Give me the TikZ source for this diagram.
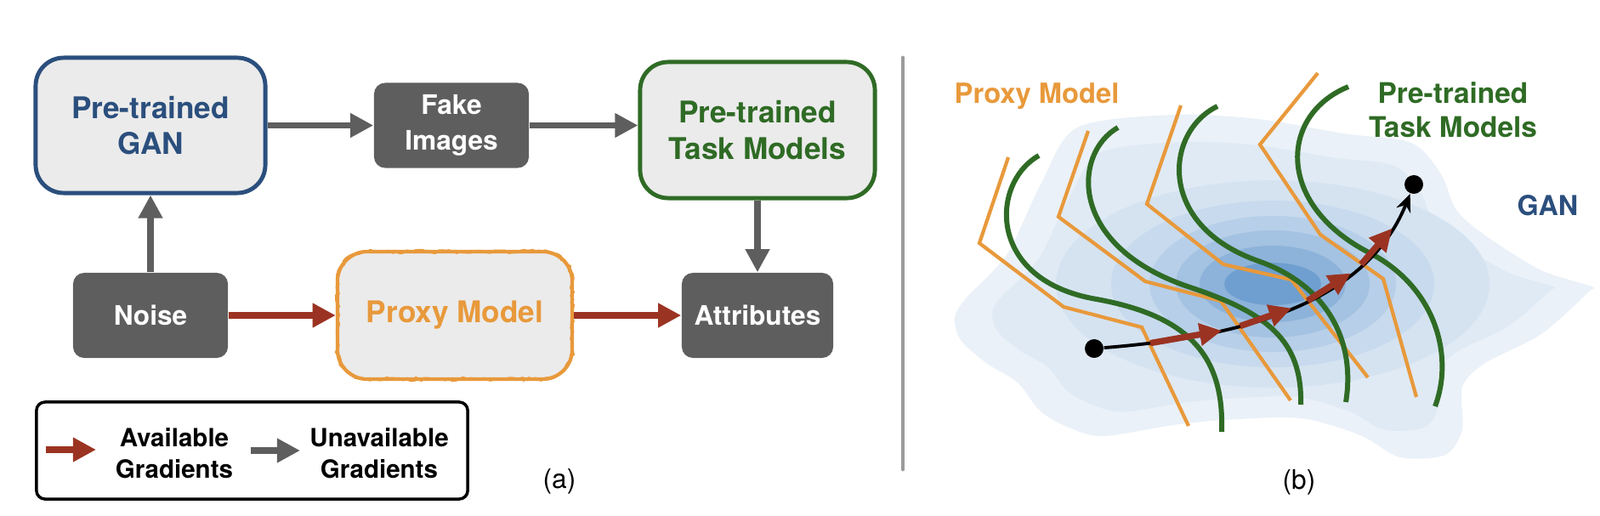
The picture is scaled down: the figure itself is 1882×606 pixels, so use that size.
\documentclass[tikz,border=0pt]{standalone}
\usepackage{fontspec}
\setmainfont{TeX Gyre Heros}
\usetikzlibrary{positioning,arrows.meta,decorations.pathmorphing}

\definecolor{ganblue}{RGB}{43,79,125}
\definecolor{taskgreen}{RGB}{47,107,37}
\definecolor{proxyorange}{RGB}{232,153,59}
\definecolor{gradred}{RGB}{155,51,34}
\definecolor{boxgray}{RGB}{94,94,94}
\definecolor{boxfill}{RGB}{235,235,235}
\definecolor{blobblue}{RGB}{92,146,202}
\definecolor{sepgray}{RGB}{155,155,155}

\tikzstyle{model}=[fill=boxfill, rounded corners=0.33cm, line width=1.4pt, minimum width=2.7cm, minimum height=1.59cm, align=center, inner sep=0pt, font=\fontsize{10}{12}\selectfont\bfseries]
\tikzstyle{proxy}=[model, draw=proxyorange, text=proxyorange, minimum width=2.76cm, minimum height=1.5cm, rounded corners=0.35cm, line width=1.2pt,
  postaction={draw=proxyorange, sharp corners, line width=0.8pt, decorate, decoration={random steps, segment length=1.2pt, amplitude=0.5pt}}]
\tikzstyle{data}=[fill=boxgray, rounded corners=0.13cm, text=white, minimum width=1.82cm, minimum height=1cm, align=center, inner sep=0pt, font=\fontsize{9}{12}\selectfont\bfseries]
\tikzstyle{unav}=[draw=boxgray, line width=2pt, -{Triangle[length=7.7pt,width=7.7pt]}]
\tikzstyle{avail}=[draw=gradred, line width=2pt, -{Triangle[length=7.7pt,width=7.7pt]}]
\tikzstyle{legtext}=[align=center, inner sep=0pt, font=\fontsize{8.4}{10.5}\selectfont\bfseries]
\tikzstyle{proxyline}=[draw=proxyorange, line width=1.2pt]
\tikzstyle{taskline}=[draw=taskgreen, line width=1.7pt]
\tikzstyle{dot}=[circle, fill=black, inner sep=0pt, minimum size=0.22cm]
\tikzstyle{trajred}=[draw=gradred, line width=2.1pt, -{Triangle[length=7.5pt,width=7.2pt]}]

% outline of the GAN density
\newcommand{\ganblob}{plot[smooth cycle, tension=0.5] coordinates {(1267,150) (1380,135) (1480,140) (1580,157) (1660,168) (1695,205) (1713,247) (1747,277) (1813,318) (1872,337) (1868,344) (1813,393) (1747,427) (1720,455) (1720,505) (1700,535) (1647,538) (1600,512) (1530,492) (1440,494) (1380,500) (1297,513) (1255,502) (1223,483) (1197,450) (1160,427) (1130,400) (1123,373) (1137,350) (1167,320) (1190,290) (1225,215)}}

\begin{document}
\begin{tikzpicture}[x=0.01cm, y=-0.01cm]
   \useasboundingbox (0,0) rectangle (1882,606);

   % (a) pipeline
   \node[model,draw=ganblue,text=ganblue] (GAN) at (177,147.5) {Pre-trained\\GAN};
   \node[data] (Fake) at (531,147.5) {Fake\\Images};
   \node[model,draw=taskgreen,text=taskgreen,minimum width=2.76cm,minimum height=1.6cm] (Task) at (891,153) {Pre-trained\\Task Models};
   \node[data] (Noise) at (177,371) {Noise};
   \node[proxy] (Proxy) at (535,371) {Proxy Model};
   \node[data,minimum width=1.78cm] (Attr) at (891,371) {Attributes};
    \path[]
    (Noise) edge[unav] (GAN)
    (GAN) edge[unav] (Fake)
    (Fake.east) edge[unav] (Fake.east -| Task.west)
    (Task) edge[unav] (Attr)
    (Noise) edge[avail] (Proxy)
    (Proxy) edge[avail] (Attr);

   % legend
   \node[draw,line width=1pt,rounded corners=0.1cm,minimum width=5.07cm,minimum height=1.14cm] (Leg) at (296.5,530) {};
   \coordinate (LA1) at (54,529);
   \coordinate (LA2) at (113,529);
   \coordinate (LU1) at (295,530);
   \coordinate (LU2) at (353,530);
   \draw[avail] (LA1) -- (LA2);
   \draw[unav] (LU1) -- (LU2);
   \node[legtext] (AvT) at (205,533) {Available\\Gradients};
   \node[legtext] (UnT) at (446,533) {Unavailable\\Gradients};
   \node[font=\fontsize{9}{11}\selectfont] (CapA) at (658,566) {(a)};

   % separator
   \coordinate (SepT) at (1062,68);
   \coordinate (SepB) at (1062,552);
   \draw[sepgray,line width=1.4pt,line cap=round] (SepT) -- (SepB);

   % (b) GAN density contours
   \fill[blobblue!13!white] \ganblob;
   \fill[blobblue!19!white, shift={(1490,335)}, xscale=.88, yscale=.84, shift={(-1490,-335)}] \ganblob;
   \foreach \rx/\ry/\lev in {255/122/26, 190/98/34, 145/80/44, 114/63/56, 86/45/70, 57/25/88}
     \fill[blobblue!\lev!white] (1497,334) ellipse ({\rx*0.01cm} and {\ry*0.01cm});

   % proxy model boundaries
   \draw[proxyline] (1186,185) -- (1152,286) -- (1251,361) -- (1343,385) -- (1398,501);
   \draw[proxyline] (1280,154) -- (1245,255) -- (1347,331) -- (1436,354) -- (1518,471);
   \draw[proxyline] (1389,124) -- (1349,240) -- (1439,311) -- (1519,329) -- (1609,444);
   \draw[proxyline] (1550,86) -- (1482,170) -- (1553,276) -- (1627,328) -- (1666,467);

   % task model boundaries
   \draw[taskline] (1222,183) .. controls (1165,215) and (1160,330) .. (1290,352) .. controls (1400,372) and (1440,420) .. (1437,508);
   \draw[taskline] (1315,150) .. controls (1262,180) and (1255,290) .. (1400,338) .. controls (1490,368) and (1532,400) .. (1530,476);
   \draw[taskline] (1432,125) .. controls (1370,155) and (1360,265) .. (1480,307) .. controls (1560,335) and (1595,400) .. (1583,473);
   \draw[taskline] (1586,102) .. controls (1505,135) and (1500,240) .. (1610,297) .. controls (1690,338) and (1710,420) .. (1688,478);

   % labels
   \node[anchor=base west,inner sep=0pt,text=proxyorange,font=\fontsize{9.3}{11}\selectfont\bfseries] (ProxyLbl) at (1122,121) {Proxy Model};
   \node[anchor=north,inner sep=0pt,align=center,text=taskgreen,font=\fontsize{9.5}{11.4}\selectfont\bfseries] (TaskLbl) at (1709,96) {Pre-trained\\Task Models};
   \node[anchor=base west,inner sep=0pt,text=ganblue,font=\fontsize{9.2}{11}\selectfont\bfseries] (GANLbl) at (1784,253) {GAN};

   % optimisation path
   \node[dot] (Start) at (1287,410) {};
   \node[dot] (End) at (1663,217) {};
   \draw[line width=1.1pt,-{Stealth[length=6pt,width=5pt]}] (Start) .. controls (1450,397) and (1605,362) .. (End)
     coordinate[pos=0.12] (R1a) coordinate[pos=0.31] (R1b)
     coordinate[pos=0.36] (R2a) coordinate[pos=0.51] (R2b)
     coordinate[pos=0.56] (R3a) coordinate[pos=0.71] (R3b)
     coordinate[pos=0.75] (R4a) coordinate[pos=0.89] (R4b);
   \foreach \i in {1,...,4}
     \draw[trajred] (R\i a) -- (R\i b);

   \node[font=\fontsize{9}{11}\selectfont] (CapB) at (1528,567) {(b)};
\end{tikzpicture}
\end{document}
